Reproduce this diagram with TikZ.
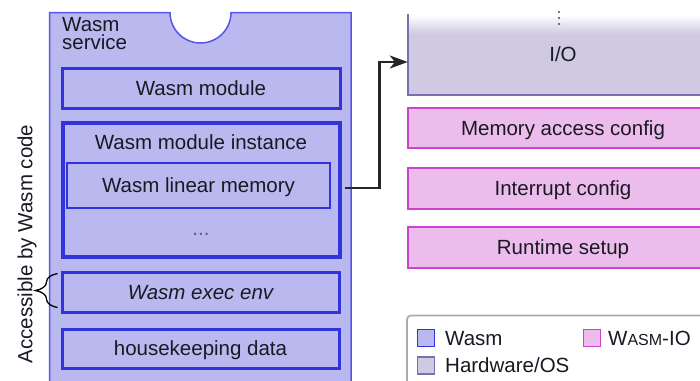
\documentclass[tikz,border=0pt]{standalone}
\usepackage{fontspec}
\setmainfont{Liberation Sans}
\usetikzlibrary{decorations.pathreplacing,arrows.meta,calc}

\definecolor{wasmfill}{RGB}{185,185,240}
\definecolor{wasmline}{RGB}{51,51,221}
\definecolor{svcline}{RGB}{85,85,232}
\definecolor{iofill}{RGB}{236,188,236}
\definecolor{ioline}{RGB}{204,68,204}
\definecolor{hwfill}{RGB}{207,201,225}
\definecolor{hwline}{RGB}{122,112,176}
\definecolor{legline}{RGB}{172,172,172}
\definecolor{ink}{RGB}{25,25,35}

\tikzset{
  every node/.style={font=\fontsize{20.5}{22}\selectfont, text=ink},
  capc/.style={text height=14.7pt, text depth=0pt},
  wbox/.style={draw=wasmline, line width=3pt, fill=wasmfill, capc, inner sep=0pt},
  membox/.style={draw=wasmline, line width=1.1pt, fill=wasmfill, capc, inner sep=0pt},
  iobox/.style={draw=ioline, line width=1.8pt, fill=iofill, capc, inner sep=0pt,
                minimum width=310pt},
  legsq/.style={minimum size=17pt, inner sep=0pt, line width=1.4pt},
  legtxt/.style={anchor=base west, inner sep=0pt},
  arr/.style={line width=2.3pt, black!85, -{Stealth[length=18pt,width=13pt,inset=5pt]}},
}

\begin{document}
\begin{tikzpicture}[x=1pt,y=-1pt]
\clip (0,0) rectangle (700,380);

% Wasm service container with the notch on top
\draw[svcline, line width=1.5pt, fill=wasmfill]
  (49.5,12.5) -- (170,12.5) arc[start angle=180, end angle=0, radius=30.5]
  -- (351,12.5) -- (351,395) -- (49.5,395) -- cycle;
\node[anchor=north west, inner sep=0pt, align=left, font=\fontsize{20.5}{18}\selectfont]
  (svc) at (62,17.5) {Wasm\\service};

% contents of the service
\node[wbox, minimum width=278pt, minimum height=40pt] (mod) at (201,88) {Wasm module};
\node[wbox, line width=4pt, minimum width=277pt, minimum height=134pt] (inst) at (201,190) {};
\node[capc, inner sep=0pt] (insttxt) at (201,142) {Wasm module instance};
\node[membox, minimum width=263pt, minimum height=45pt] (mem) at (198.5,185.5) {Wasm linear memory};
\node[capc, inner sep=0pt, text=ink!70] (more) at (201,228) {...};
\node[wbox, minimum width=277pt, minimum height=40pt, font=\fontsize{20.5}{22}\selectfont\itshape]
  (exec) at (200.5,292) {Wasm exec env};
\node[wbox, minimum width=277pt, minimum height=39pt] (house) at (200.5,348.5) {housekeeping data};

% accessibility annotation
\node[capc, inner sep=0pt, rotate=90] (acc) at (25,244) {Accessible by Wasm code};
\draw[line width=1.3pt, decorate, decoration={brace, amplitude=22pt}]
  ([xshift=-3pt,yshift=6pt]exec.south west) -- ([xshift=-3pt,yshift=-3pt]exec.north west);

% hardware / OS layer, fading out towards the top
\shade[top color=white, bottom color=hwfill] (408,15) rectangle (720,34);
\fill[hwfill] (408,34) rectangle (720,95);
\draw[hwline, line width=1.8pt] (408,14) -- (408,95) -- (720,95);
\node[capc, inner sep=0pt, minimum width=310pt, minimum height=81pt] (io) at (563,54.5) {I/O};
\foreach \dy in {12,18,24}
  \fill[ink!80] (559,\dy) circle[radius=1.2pt];

% Wasm-IO layer
\node[iobox, minimum height=40pt] (mac) at (563,128) {Memory access config};
\node[iobox, minimum height=41pt] (irq) at (563,188.5) {Interrupt config};
\node[iobox, minimum height=41pt] (rt) at (563,247.5) {Runtime setup};

% link from linear memory to I/O
\coordinate (memout) at ([xshift=3pt]inst.east |- 0,188);
\draw[arr] (memout) -- ++(35,0) |- ([yshift=-7.5pt]io.west);

% legend
\draw[legline, line width=1.8pt, fill=white, rounded corners=4pt] (407,315.5) rectangle (730,400);
\node[legsq, draw=wasmline, fill=wasmfill] (lw) at (426,338) {};
\node[legtxt] (lwt) at (445,345) {Wasm};
\node[legsq, draw=ioline, fill=iofill] (li) at (592,338) {};
\node[legtxt] (lit) at (608,345) {W{\fontsize{16}{16}\selectfont ASM}-IO};
\node[legsq, draw=hwline, fill=hwfill] (lh) at (426,365.5) {};
\node[legtxt] (lht) at (445,372) {Hardware/OS};
\end{tikzpicture}
\end{document}
